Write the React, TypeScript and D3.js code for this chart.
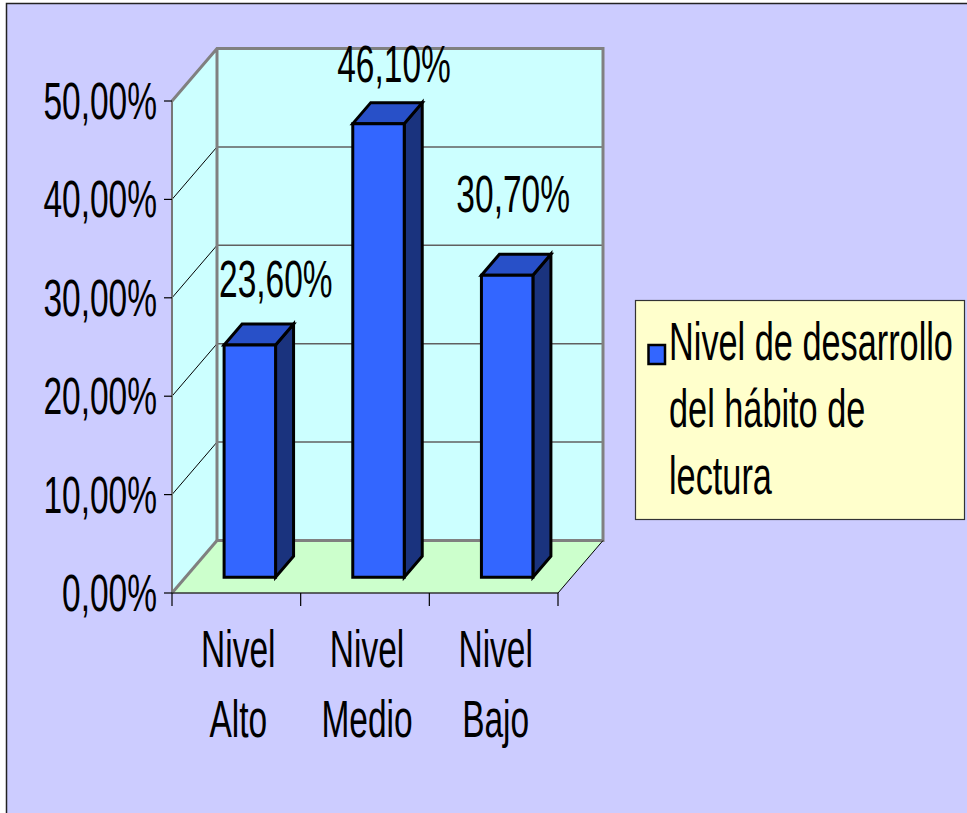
import React from "react";
import * as d3 from "d3";

const categories = ["Nivel Alto", "Nivel Medio", "Nivel Bajo"];
const values = [0.236, 0.461, 0.307];
const yTicks = [0, 0.1, 0.2, 0.3, 0.4, 0.5];
const seriesName = "Nivel de desarrollo del hábito de lectura";
const legendLines = ["Nivel de desarrollo", "del hábito de", "lectura"];

// layout
const W = 967, H = 813;
const DX = 45, DY = -52.5; // depth projection
const FS = 33.5, SY = 1.55;
const FONT = "'Liberation Sans', Arial, sans-serif";
const labelShift: [number, number][] = [[17, -37.5], [6.5, -31], [-3, -52.5]];

const locale = d3.formatLocale({ decimal: ",", thousands: ".", grouping: [3], currency: ["", "€"] });
const fmt = locale.format(".2%");

function T({ x, y, anchor = "middle", size = FS, children }: any) {
  return (
    <text transform={`translate(${x},${y}) scale(1,${SY})`} textAnchor={anchor}
      fontFamily={FONT} fontSize={size} fill="#000">{children}</text>
  );
}

export default function App() {
  const x = d3.scaleBand<string>().domain(categories).range([172, 558]);
  const y = d3.scaleLinear().domain([0, 0.5]).range([593, 101]);
  const bw = x.bandwidth();
  const P = (px: number, v: number, z: number): [number, number] => [px + z * DX, y(v) + z * DY];
  const pts = (a: [number, number][]) => a.map(p => p.join(",")).join(" ");

  const [x0, x1] = x.range();
  const wallGray = "#808080";

  return (
    <svg width={W} height={H} style={{ position: "absolute", left: 0, top: 0 }}>
      <rect x={0} y={0} width={W} height={H} fill="#ffffff" />
      <rect x={6.5} y={3.5} width={W + 10} height={H + 10} fill="#CCCCFF" stroke="#222" strokeWidth={1.5} />

      {/* side wall */}
      <polygon points={pts([P(x0, 0, 0), P(x0, 0.5, 0), P(x0, 0.5, 1), P(x0, 0, 1)])} fill="#CCFFFF" />
      {/* back wall */}
      <polygon points={pts([P(x0, 0, 1), P(x0, 0.5, 1), P(x1, 0.5, 1), P(x1, 0, 1)])} fill="#CCFFFF" />
      {/* floor */}
      <polygon points={pts([P(x0, 0, 0), P(x0, 0, 1), P(x1, 0, 1), P(x1, 0, 0)])} fill="#CCFFCC" />

      {/* gridlines */}
      {yTicks.slice(1, -1).map((t, i) => {
        const a = P(x0, t, 0), b = P(x0, t, 1), c = P(x1, t, 1);
        return (
          <g key={i}>
            <line x1={a[0]} y1={a[1]} x2={b[0]} y2={b[1]} stroke="#000" strokeWidth={1} />
            <line x1={b[0]} y1={b[1]} x2={c[0]} y2={c[1]} stroke="#606060" strokeWidth={1.5} />
          </g>
        );
      })}

      {/* wall edges */}
      <polyline points={pts([P(x0, 0.5, 0), P(x0, 0.5, 1), P(x1, 0.5, 1), P(x1, 0, 1), P(x0, 0, 1), P(x0, 0.5, 1)])}
        fill="none" stroke={wallGray} strokeWidth={3} strokeLinejoin="miter" />
      <line x1={P(x0, 0, 0)[0]} y1={P(x0, 0, 0)[1]} x2={P(x0, 0, 1)[0]} y2={P(x0, 0, 1)[1]} stroke={wallGray} strokeWidth={3} />
      <line x1={P(x1, 0, 0)[0]} y1={P(x1, 0, 0)[1]} x2={P(x1, 0, 1)[0]} y2={P(x1, 0, 1)[1]} stroke="#000" strokeWidth={1} />
      {/* left axis */}
      <line x1={x0} y1={y(0)} x2={x0} y2={y(0.5)} stroke="#777" strokeWidth={2} />
      {/* floor front edge */}
      <line x1={x0} y1={y(0)} x2={x1} y2={y(0)} stroke="#333" strokeWidth={1.5} />

      {/* y ticks */}
      {yTicks.map((t, i) => (
        <g key={i}>
          <line x1={x0 - 8} x2={x0} y1={y(t)} y2={y(t)} stroke="#000" strokeWidth={1.2} />
          <T x={157} y={y(t) + 18} anchor="end">{fmt(t)}</T>
        </g>
      ))}
      {/* x ticks */}
      {[...categories.map(c => x(c)!), x1].map((px, i) => (
        <line key={i} x1={px} x2={px} y1={y(0)} y2={y(0) + 13} stroke="#000" strokeWidth={1.2} />
      ))}
      {categories.map((c, i) => {
        const cx = x(c)! + bw / 2 + 2;
        const words = c.split(" ");
        return (
          <g key={i}>
            <T x={cx} y={667}>{words[0]}</T>
            <T x={cx} y={737}>{words[1]}</T>
          </g>
        );
      })}

      {/* bars */}
      {categories.map((c, i) => {
        const l = x(c)! + bw * 0.3, r = l + bw * 0.4, v = values[i];
        const z0 = 0.3, z1 = 0.7;
        const front = [P(l, 0, z0), P(l, v, z0), P(r, v, z0), P(r, 0, z0)] as [number, number][];
        const side = [P(r, 0, z0), P(r, v, z0), P(r, v, z1), P(r, 0, z1)] as [number, number][];
        const top = [P(l, v, z0), P(l, v, z1), P(r, v, z1), P(r, v, z0)] as [number, number][];
        const tc = P((l + r) / 2, v, 0.5);
        return (
          <g key={i} stroke="#000" strokeWidth={3} strokeLinejoin="miter">
            <polygon points={pts(side)} fill="#1A337E" />
            <polygon points={pts(top)} fill="#2850C8" />
            <polygon points={pts(front)} fill="#3366FF" />
            <g stroke="none">
              <T x={tc[0] + labelShift[i][0]} y={tc[1] + labelShift[i][1]}>{fmt(v)}</T>
            </g>
          </g>
        );
      })}

      {/* legend */}
      <g aria-label={seriesName}>
        <rect x={635.5} y={300.5} width={329} height={219} fill="#FFFFCC" stroke="#333" strokeWidth={1.2} />
        <rect x={648.5} y={345} width={16.5} height={19} fill="#3366FF" stroke="#000" strokeWidth={2.5} />
        {legendLines.map((s, i) => (
          <T key={i} x={669} y={360 + i * 67} anchor="start" size={34.3}>{s}</T>
        ))}
      </g>
    </svg>
  );
}
